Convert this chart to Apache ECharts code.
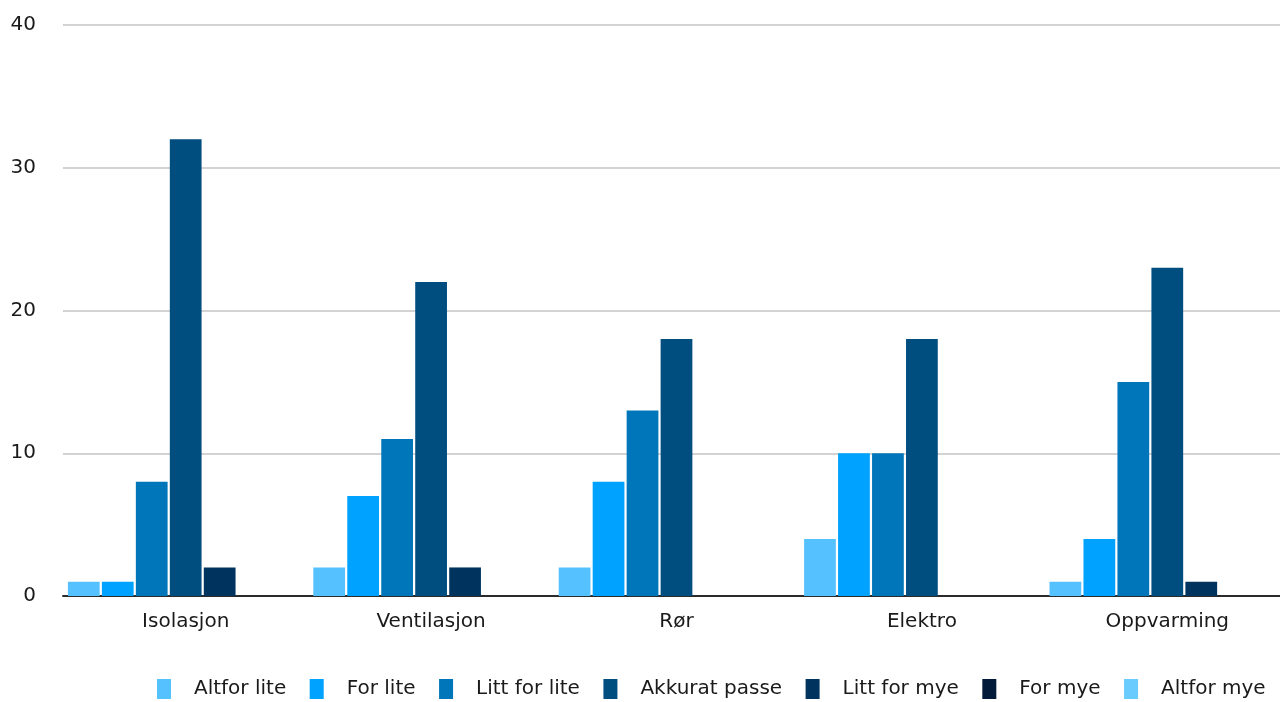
<!DOCTYPE html>
<html>
<head>
<meta charset="utf-8">
<script src="https://cdn.jsdelivr.net/npm/echarts@6/dist/echarts.min.js"></script>
<style>
html,body{margin:0;padding:0;background:#fff;}
#chart{width:1280px;height:702px;}
</style>
</head>
<body>
<div id="chart"></div>
<script>
const categories = ['Isolasjon', 'Ventilasjon', 'Rør', 'Elektro', 'Oppvarming'];
const seriesNames = ['Altfor lite', 'For lite', 'Litt for lite', 'Akkurat passe', 'Litt for mye', 'For mye', 'Altfor mye'];
const altforLite = [1, 2, 2, 4, 1];
const forLite = [1, 7, 8, 10, 4];
const littForLite = [8, 11, 13, 10, 15];
const akkuratPasse = [32, 22, 18, 18, 23];
const littForMye = [2, 2, 0, 0, 1];
const forMye = [0, 0, 0, 0, 0];
const altforMye = [0, 0, 0, 0, 0];
const yTicks = [0, 10, 20, 30, 40];

const colors = ['#56C1FF', '#00A2FF', '#0076BA', '#004D80', '#00345E', '#021B3A', '#6ACBFF'];
const values = [altforLite, forLite, littForLite, akkuratPasse, littForMye, forMye, altforMye];
const FONT = '"DejaVu Sans", Arial, Helvetica, sans-serif';

const chart = echarts.init(document.getElementById('chart'));
chart.setOption({
  animation: false,
  color: colors,
  grid: { left: 63, right: -10, top: 25, bottom: 106, containLabel: false, outerBoundsMode: 'none' },
  legend: {
    left: 157,
    top: 679,
    padding: 0,
    itemWidth: 14,
    itemHeight: 20,
    itemGap: 23.5,
    icon: 'rect',
    data: seriesNames,
    textStyle: { fontFamily: FONT, fontSize: 20, color: '#1a1a1a', padding: [3, 0, 0, 18] }
  },
  xAxis: {
    type: 'category',
    data: categories,
    axisTick: { show: false },
    axisLine: { lineStyle: { color: '#2b2b2b', width: 2 } },
    axisLabel: { fontFamily: FONT, fontSize: 20, color: '#1a1a1a', margin: 16 }
  },
  yAxis: {
    type: 'value',
    min: yTicks[0],
    max: yTicks[yTicks.length - 1],
    interval: 10,
    axisLine: { show: false },
    axisTick: { show: false },
    splitLine: { lineStyle: { color: '#c4c4c4', width: 1.5 } },
    axisLabel: { fontFamily: FONT, fontSize: 20, color: '#1a1a1a', margin: 27 }
  },
  series: seriesNames.map((name, i) => ({
    name: name,
    type: 'bar',
    data: values[i],
    barGap: '7%',
    barCategoryGap: '4%',
    itemStyle: { color: colors[i] }
  }))
});
</script>
</body>
</html>
